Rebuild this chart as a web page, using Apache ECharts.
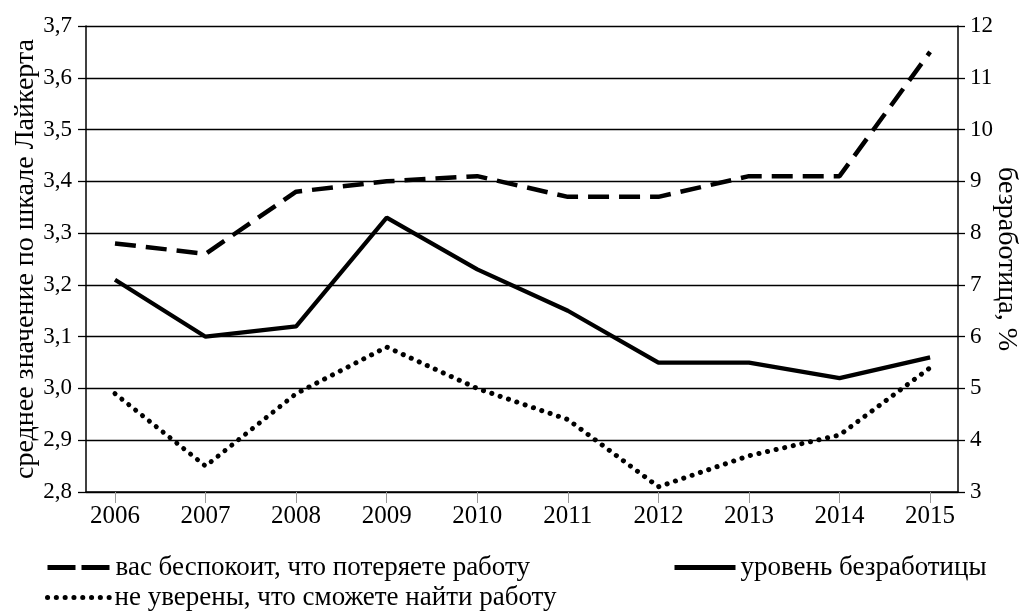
<!DOCTYPE html>
<html>
<head>
<meta charset="utf-8">
<script src="https://cdn.jsdelivr.net/npm/echarts@6/dist/echarts.min.js"></script>
<style>html,body{margin:0;padding:0;background:#fff}#c{width:1024px;height:611px}</style>
</head>
<body>
<div id="c"></div>
<script>
const years = [2006, 2007, 2008, 2009, 2010, 2011, 2012, 2013, 2014, 2015];
const worryLoseJob = [3.28, 3.26, 3.38, 3.40, 3.41, 3.37, 3.37, 3.41, 3.41, 3.65];
const unemployment = [7.1, 6.0, 6.2, 8.3, 7.3, 6.5, 5.5, 5.5, 5.2, 5.6];
const notSureFindJob = [2.99, 2.85, 2.99, 3.08, 3.00, 2.94, 2.81, 2.87, 2.91, 3.04];
const leftTicks = [2.8, 2.9, 3.0, 3.1, 3.2, 3.3, 3.4, 3.5, 3.6, 3.7];
const rightTicks = [3, 4, 5, 6, 7, 8, 9, 10, 11, 12];
const names = ['вас беспокоит, что потеряете работу', 'уровень безработицы', 'не уверены, что сможете найти работу'];
const leftName = 'среднее значение по шкале Лайкерта';
const rightName = 'безработица, %';

const FONT = '"Liberation Serif", "DejaVu Serif", serif';
const pair = (arr) => arr.map((v, i) => [years[i], v]);
const noSym = {color: 'rgba(0,0,0,0)', borderColor: 'rgba(0,0,0,0)', borderWidth: 0};
const legendText = {fontFamily: FONT, fontSize: 27, color: '#000'};

const chart = echarts.init(document.getElementById('c'), null, {renderer: 'canvas'});
chart.setOption({
  animation: false,
  backgroundColor: '#fff',
  textStyle: {fontFamily: FONT, color: '#000'},
  grid: {left: 86, right: 66, top: 26, bottom: 119, containLabel: false, outerBoundsMode: 'none'},
  xAxis: {
    type: 'value',
    min: 2005.68,
    max: 2015.308,
    splitLine: {show: false},
    axisLine: {show: true, lineStyle: {color: '#000', width: 1.5}},
    axisTick: {show: true, customValues: years, length: 11, lineStyle: {color: '#999', width: 1}},
    axisLabel: {customValues: years, formatter: v => String(Math.round(v)), fontFamily: FONT, fontSize: 25, color: '#000', margin: 12}
  },
  yAxis: [
    {
      type: 'value', position: 'left',
      min: leftTicks[0], max: leftTicks[leftTicks.length - 1], interval: 0.1,
      name: leftName, nameLocation: 'middle', nameGap: 46, nameRotate: 90, nameMoveOverlap: false,
      nameTextStyle: {fontFamily: FONT, fontSize: 28, color: '#000'},
      axisLine: {show: true, lineStyle: {color: '#000', width: 1.5}},
      axisTick: {show: true, length: 8, lineStyle: {color: '#000', width: 1.3}},
      axisLabel: {formatter: v => v.toFixed(1).replace('.', ','), fontFamily: FONT, fontSize: 23, color: '#000', margin: 14},
      splitLine: {show: true, lineStyle: {color: '#000', width: 1.3}}
    },
    {
      type: 'value', position: 'right',
      min: rightTicks[0], max: rightTicks[rightTicks.length - 1], interval: 1,
      name: rightName, nameLocation: 'middle', nameGap: 34, nameRotate: -90, nameMoveOverlap: false,
      nameTextStyle: {fontFamily: FONT, fontSize: 28, color: '#000'},
      axisLine: {show: true, lineStyle: {color: '#000', width: 1.5}},
      axisTick: {show: true, length: 7, lineStyle: {color: '#000', width: 1.3}},
      axisLabel: {fontFamily: FONT, fontSize: 23, color: '#000', margin: 12},
      splitLine: {show: false}
    }
  ],
  legend: [
    {
      left: 45, top: 554, padding: 0, itemWidth: 63, itemHeight: 14,
      textStyle: legendText,
      data: [{name: names[0], itemStyle: noSym, lineStyle: {type: [28, 6], width: 5}}]
    },
    {
      left: 672, top: 554, padding: 0, itemWidth: 61, itemHeight: 14,
      textStyle: legendText,
      data: [{name: names[1], itemStyle: noSym, lineStyle: {width: 5}}]
    },
    {
      left: 45, top: 584, padding: 0, itemWidth: 62, itemHeight: 14,
      textStyle: legendText,
      data: [{name: names[2], itemStyle: noSym, lineStyle: {type: [0.1, 8.7], width: 5, cap: 'round'}}]
    }
  ],
  series: [
    {
      name: names[0], type: 'line', yAxisIndex: 0, data: pair(worryLoseJob),
      symbol: 'none', showSymbol: false,
      lineStyle: {color: '#000', width: 4.5, type: [21, 10]}, itemStyle: {color: '#000'}
    },
    {
      name: names[1], type: 'line', yAxisIndex: 1, data: pair(unemployment),
      symbol: 'none', showSymbol: false,
      lineStyle: {color: '#000', width: 4.2, type: 'solid'}, itemStyle: {color: '#000'}
    },
    {
      name: names[2], type: 'line', yAxisIndex: 0, data: pair(notSureFindJob),
      symbol: 'none', showSymbol: false,
      lineStyle: {color: '#000', width: 5, type: [0.1, 8.7], cap: 'round'}, itemStyle: {color: '#000'}
    }
  ]
});
</script>
</body>
</html>
